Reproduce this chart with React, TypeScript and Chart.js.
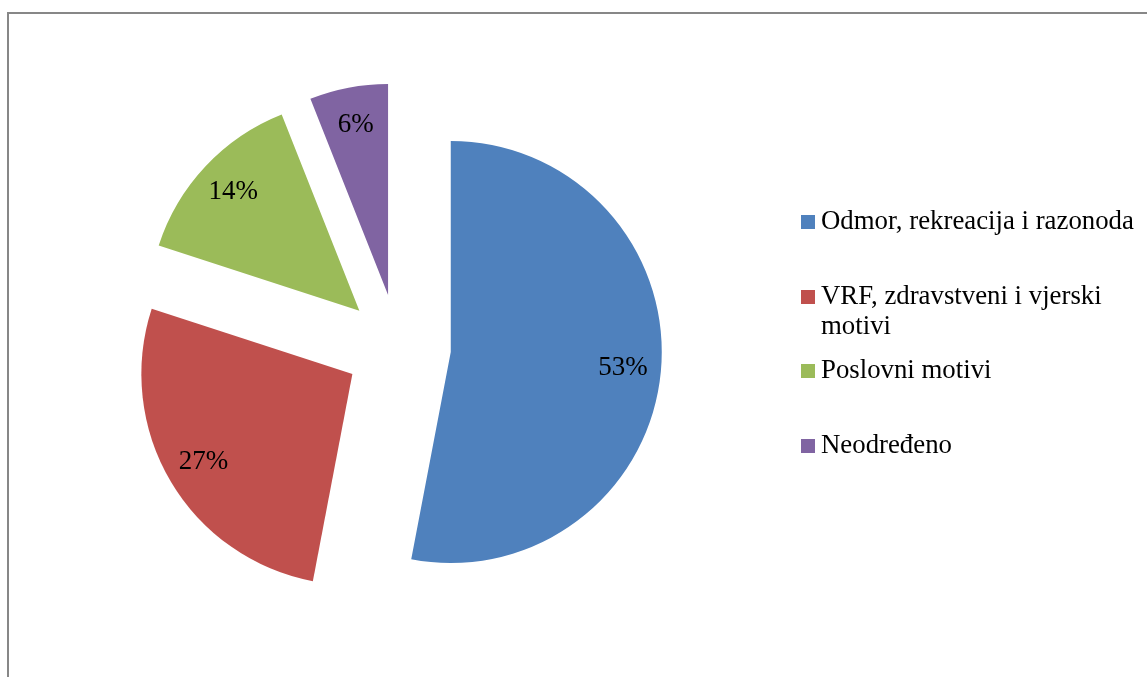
import React, { useEffect, useRef } from "react";
import { Chart, registerables } from "chart.js";

Chart.register(...registerables);

const categories = [
  "Odmor, rekreacija i razonoda",
  "VRF, zdravstveni i vjerski motivi",
  "Poslovni motivi",
  "Neodređeno",
];
const shares = [53, 27, 14, 6];
const sliceColors = ["#4F81BD", "#C0504D", "#9BBB59", "#8064A2"];

const FONT = '"Liberation Serif", "Times New Roman", serif';
const EXPLODE = 53;

// Draw each Chart.js arc element translated outward along its mid-angle
// (uniform explosion like the original, without Chart.js' radius growth).
const explodePlugin = {
  id: "explode",
  beforeDatasetDraw(chart: any, args: any) {
    const ctx = chart.ctx;
    const meta = chart.getDatasetMeta(args.index);
    meta.data.forEach((arc: any) => {
      const mid = (arc.startAngle + arc.endAngle) / 2;
      ctx.save();
      ctx.translate(Math.cos(mid) * EXPLODE, Math.sin(mid) * EXPLODE);
      arc.draw(ctx, chart.chartArea);
      ctx.restore();
    });
    return false;
  },
};

const labelPlugin = {
  id: "sliceLabels",
  afterDatasetsDraw(chart: any) {
    const ctx = chart.ctx;
    const meta = chart.getDatasetMeta(0);
    ctx.save();
    ctx.fillStyle = "#000";
    ctx.font = `27px ${FONT}`;
    ctx.textAlign = "center";
    ctx.textBaseline = "middle";
    meta.data.forEach((arc: any, i: number) => {
      const mid = (arc.startAngle + arc.endAngle) / 2;
      const d = EXPLODE + arc.outerRadius * 0.82;
      const x = arc.x + Math.cos(mid) * d;
      const y = arc.y + Math.sin(mid) * d;
      ctx.fillText(`${shares[i]}%`, x, y);
    });
    ctx.restore();
  },
};

export default function App() {
  const ref = useRef<HTMLCanvasElement | null>(null);

  useEffect(() => {
    if (!ref.current) return;
    const chart = new Chart(ref.current, {
      type: "pie",
      data: {
        labels: categories,
        datasets: [
          {
            data: shares,
            backgroundColor: sliceColors,
            borderWidth: 0,
            offset: 0,
            hoverOffset: 0,
          },
        ],
      },
      options: {
        responsive: false,
        animation: false,
        radius: 211,
        layout: { padding: { left: 0, right: 351, top: 17, bottom: 0 } },
        plugins: {
          legend: { display: false },
          tooltip: { enabled: false },
        },
        events: [],
      } as any,
      plugins: [explodePlugin, labelPlugin],
    });
    return () => chart.destroy();
  }, []);

  return (
    <div
      style={{
        position: "fixed",
        left: 0,
        top: 0,
        width: 1147,
        height: 677,
        background: "#fff",
        overflow: "hidden",
      }}
    >
      <div
        style={{
          position: "absolute",
          left: 7,
          top: 12,
          width: 1300,
          height: 800,
          borderLeft: "2px solid #878787",
          borderTop: "2px solid #878787",
          boxSizing: "border-box",
        }}
      />
      <canvas
        ref={ref}
        width={1147}
        height={677}
        style={{ position: "absolute", left: 0, top: 0 }}
      />
      <div
        style={{
          position: "absolute",
          left: 801,
          top: 205,
          fontFamily: FONT,
          fontSize: 26.8,
          lineHeight: "30px",
          color: "#000",
        }}
      >
        {categories.map((c, i) => (
          <div key={c} style={{ position: "relative", height: 74.67 }}>
            <div
              style={{
                position: "absolute",
                left: 0,
                top: 10,
                width: 14,
                height: 14,
                background: sliceColors[i],
              }}
            />
            <div style={{ position: "absolute", left: 20, top: 0, width: 322 }}>{c}</div>
          </div>
        ))}
      </div>
    </div>
  );
}
